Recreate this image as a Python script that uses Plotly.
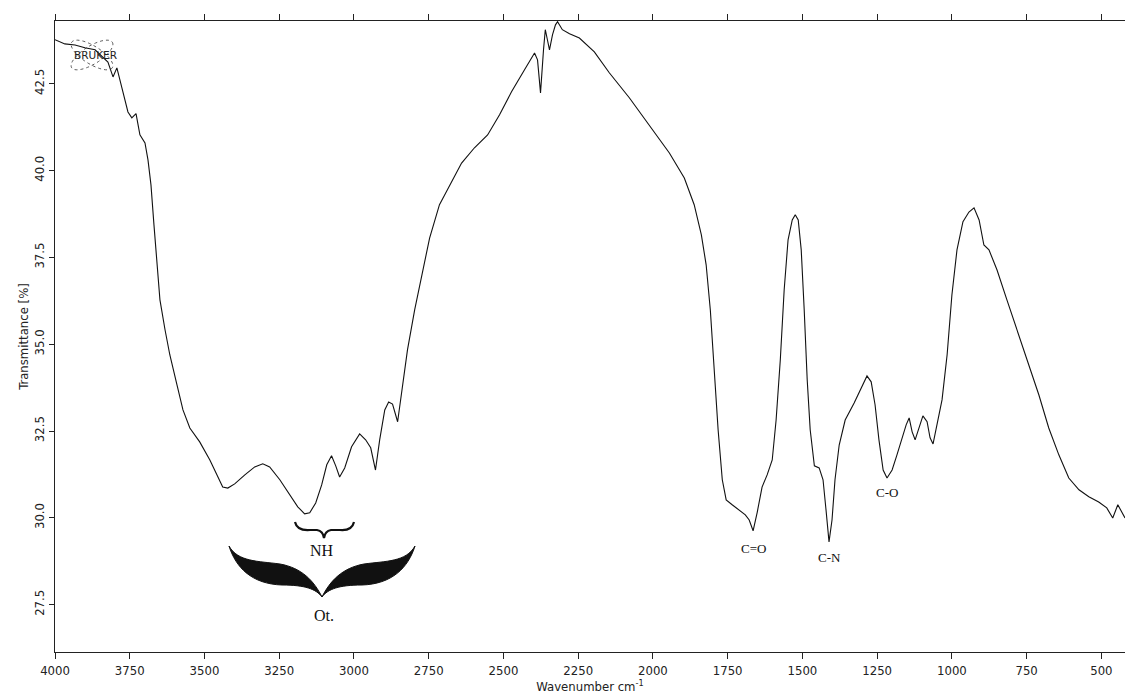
import numpy as np
import plotly.graph_objects as go

# ---- data ----
wavenumber = [4000, 3967, 3933, 3900, 3866, 3840, 3823, 3806, 3793, 3776, 3756, 3743, 3729, 3716,
              3699, 3689, 3679, 3669, 3659, 3649, 3632, 3616, 3592, 3572, 3549, 3516, 3482, 3455,
              3439, 3422, 3399, 3365, 3332, 3305, 3282, 3248, 3215, 3188, 3165, 3148, 3128, 3108,
              3091, 3075, 3061, 3048, 3031, 3008, 2981, 2961, 2944, 2928, 2914, 2897, 2884, 2871,
              2854, 2841, 2821, 2797, 2774, 2747, 2714, 2680, 2640, 2597, 2553, 2513, 2473, 2430,
              2396, 2386, 2376, 2366, 2360, 2353, 2346, 2336, 2326, 2319, 2303, 2279, 2246, 2196,
              2146, 2079, 2012, 1945, 1895, 1862, 1838, 1822, 1808, 1795, 1782, 1768, 1755, 1735,
              1711, 1691, 1678, 1665, 1651, 1635, 1618, 1601, 1588, 1574, 1561, 1548, 1534, 1524,
              1514, 1504, 1494, 1484, 1474, 1460, 1444, 1431, 1421, 1411, 1401, 1391, 1377, 1357,
              1327, 1300, 1284, 1270, 1257, 1244, 1230, 1217, 1200, 1184, 1167, 1153, 1143, 1133,
              1123, 1110, 1097, 1083, 1073, 1063, 1050, 1033, 1016, 1000, 983, 963, 943, 926,
              909, 893, 876, 849, 816, 776, 743, 709, 676, 642, 609, 575, 542, 509, 482, 462, 445, 421]
transmittance = [43.77, 43.65, 43.62, 43.54, 43.48, 43.25, 43.13, 42.70, 42.96, 42.38, 41.69, 41.52,
                 41.64, 41.03, 40.80, 40.31, 39.59, 38.44, 37.29, 36.28, 35.42, 34.70, 33.83, 33.11,
                 32.59, 32.19, 31.67, 31.15, 30.89, 30.86, 30.98, 31.24, 31.47, 31.56, 31.47, 31.10,
                 30.66, 30.32, 30.12, 30.15, 30.43, 30.95, 31.53, 31.79, 31.50, 31.18, 31.44, 32.05,
                 32.42, 32.25, 32.02, 31.38, 32.25, 33.11, 33.34, 33.28, 32.77, 33.54, 34.84, 35.99,
                 36.99, 38.06, 39.02, 39.59, 40.22, 40.66, 41.03, 41.61, 42.27, 42.90, 43.39, 43.19,
                 42.24, 43.48, 44.06, 43.77, 43.48, 43.91, 44.20, 44.29, 44.06, 43.94, 43.82, 43.42,
                 42.82, 42.10, 41.32, 40.51, 39.79, 39.02, 38.15, 37.29, 35.99, 34.26, 32.54, 31.10,
                 30.52, 30.38, 30.23, 30.09, 29.94, 29.63, 30.17, 30.89, 31.24, 31.67, 32.82, 34.55,
                 36.57, 38.01, 38.58, 38.73, 38.58, 37.72, 35.99, 33.98, 32.54, 31.50, 31.44, 31.10,
                 30.23, 29.31, 29.94, 31.10, 32.10, 32.82, 33.31, 33.83, 34.09, 33.92, 33.26, 32.25,
                 31.38, 31.15, 31.38, 31.81, 32.33, 32.68, 32.88, 32.48, 32.25, 32.59, 32.94, 32.77,
                 32.31, 32.13, 32.68, 33.40, 34.70, 36.42, 37.72, 38.53, 38.81, 38.93, 38.58, 37.86,
                 37.72, 37.14, 36.28, 35.27, 34.41, 33.54, 32.59, 31.81, 31.15, 30.81, 30.61, 30.46,
                 30.29, 30.00, 30.38, 30.00]

x_tickvals = [4000, 3750, 3500, 3250, 3000, 2750, 2500, 2250, 2000, 1750, 1500, 1250, 1000, 750, 500]
y_tickvals = [27.5, 30.0, 32.5, 35.0, 37.5, 40.0, 42.5]
y_ticktext = ["27.5", "30.0", "32.5", "35.0", "37.5", "40.0", "42.5"]

band_labels = ["C=O", "C-N", "C-O"]
band_pos = [(1665, 29.12), (1411, 28.87), (1217, 30.72)]

X_RANGE = [4000, 421]
Y_RANGE = [26.14, 44.31]

# ---- figure geometry (pixels) ----
W, H = 1127, 700
L, R, T, B = 55, 2, 21, 48
PW, PH = W - L - R, H - T - B


def pw(px):
    """pixel x -> wavenumber (decoration helper)"""
    return X_RANGE[0] + (px - L) / PW * (X_RANGE[1] - X_RANGE[0])


def pt(py):
    """pixel y -> transmittance (decoration helper)"""
    return Y_RANGE[1] - (py - T) / PH * (Y_RANGE[1] - Y_RANGE[0])


def path_from(points_cmds):
    out = []
    for cmd, pts in points_cmds:
        s = cmd + " " + " ".join(f"{pw(x):.2f},{pt(y):.3f}" for x, y in pts)
        out.append(s)
    return " ".join(out)


fig = go.Figure()
fig.add_trace(go.Scatter(x=wavenumber, y=transmittance, mode="lines",
                         line=dict(color="#111111", width=1.1), hoverinfo="x+y",
                         showlegend=False))

shapes = []
# NH brace
nh = [("M", [(295, 522)]), ("Q", [(297, 531), (310, 530)]), ("L", [(317, 530)]),
      ("Q", [(323, 531), (324, 538)]), ("Q", [(325, 531), (331, 530)]), ("L", [(340, 530)]),
      ("Q", [(352, 531), (354, 522)])]
shapes.append(dict(type="path", xref="x", yref="y", path=path_from(nh),
                   line=dict(color="#111", width=2.2)))

# OH bold brace (filled moustache)
c = 322
left = [("M", [(229, 546)]),
        ("C", [(236, 568), (252, 584), (282, 585)]),
        ("C", [(305, 585), (316, 589), (c, 597)]),
        ("C", [(314, 581), (302, 568), (280, 564)]),
        ("C", [(258, 561), (238, 562), (229, 546)])]
right = [("M", [(2 * c - 229, 546)]),
         ("C", [(2 * c - 236, 568), (2 * c - 252, 584), (2 * c - 282, 585)]),
         ("C", [(2 * c - 305, 585), (2 * c - 316, 589), (c, 597)]),
         ("C", [(2 * c - 314, 581), (2 * c - 302, 568), (2 * c - 280, 564)]),
         ("C", [(2 * c - 258, 561), (2 * c - 238, 562), (2 * c - 229, 546)])]
for part in (left, right):
    shapes.append(dict(type="path", xref="x", yref="y", path=path_from(part) + " Z",
                       fillcolor="#111", line=dict(color="#111", width=1)))

# BRUKER logo orbits
for ang in (32, -32):
    th = np.linspace(0, 2 * np.pi, 60)
    a, b = 24, 9
    cx, cy = 92, 55
    ca, sa = np.cos(np.radians(ang)), np.sin(np.radians(ang))
    xs = cx + a * np.cos(th) * ca - b * np.sin(th) * sa
    ys = cy + a * np.cos(th) * sa + b * np.sin(th) * ca
    pts = [("M", [(xs[0], ys[0])])] + [("L", [(x, y)]) for x, y in zip(xs[1:], ys[1:])]
    shapes.append(dict(type="path", xref="x", yref="y", path=path_from(pts),
                       line=dict(color="#333", width=0.8, dash="dot")))

annotations = []
for lab, (xv, yv) in zip(band_labels, band_pos):
    annotations.append(dict(x=xv, y=yv, text=lab, showarrow=False,
                            font=dict(family="Liberation Serif, Times New Roman, serif", size=13,
                                      color="#111")))
annotations.append(dict(x=pw(322), y=pt(550), text="NH", showarrow=False,
                        font=dict(family="Liberation Serif, serif", size=16, color="#111")))
annotations.append(dict(x=pw(324), y=pt(615), text="Ot.", showarrow=False,
                        font=dict(family="Liberation Serif, serif", size=16, color="#111")))
annotations.append(dict(x=pw(95), y=pt(55), text="BRUKER", showarrow=False,
                        font=dict(family="DejaVu Sans, sans-serif", size=10.5, color="#222")))

axis_font = dict(family="DejaVu Sans Condensed, Liberation Sans Narrow, sans-serif",
                 size=13, color="#222")

fig.update_layout(
    width=W, height=H,
    margin=dict(l=L, r=R, t=T, b=B),
    paper_bgcolor="white", plot_bgcolor="white",
    shapes=shapes, annotations=annotations,
    xaxis=dict(range=X_RANGE, tickvals=x_tickvals, ticks="outside", ticklen=6,
               tickcolor="#222", showline=True, linecolor="#222", linewidth=1,
               mirror="ticks", showgrid=False, zeroline=False, tickfont=axis_font,
               automargin=False,
               title=dict(text="Wavenumber cm<sup>-1</sup>", font=axis_font, standoff=0)),
    yaxis=dict(range=Y_RANGE, tickvals=y_tickvals, ticktext=y_ticktext, ticks="outside",
               ticklen=5, tickcolor="#222", showline=True, linecolor="#222", linewidth=1,
               showgrid=False, zeroline=False, tickangle=-90, tickfont=axis_font,
               automargin=False,
               title=dict(text="Transmittance [%]", font=axis_font, standoff=0)),
    font=axis_font,
)

fig.write_html("out.html", config={"displayModeBar": False},
               post_script="document.body.style.margin='0';document.body.style.overflow='hidden';")
